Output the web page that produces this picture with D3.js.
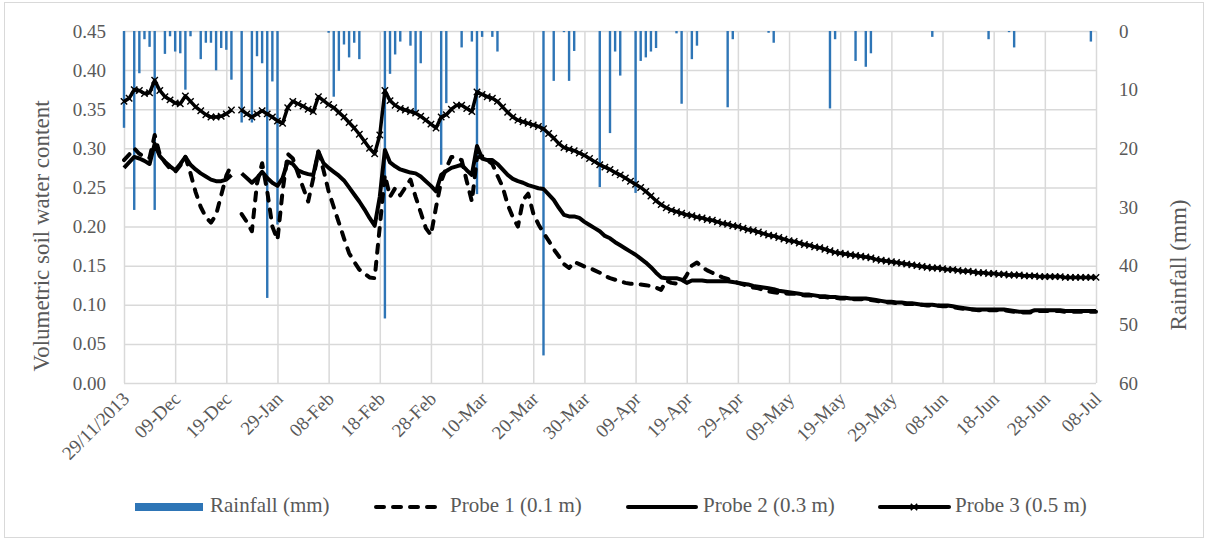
<!DOCTYPE html>
<html>
<head>
<meta charset="utf-8">
<script src="https://cdn.jsdelivr.net/npm/d3@7"></script>
<style>
  body { margin: 0; background: #fff; }
  text { font-family: "Liberation Serif", "Times New Roman", serif; fill: #595959; }
</style>
</head>
<body>
<svg width="1208" height="540"></svg>
<script>
// tick labels on the category axis (every 10th reading)
var tickIdx = [0, 10, 20, 30, 40, 50, 60, 70, 80, 90, 100, 110, 120, 130, 140, 150, 160, 170, 180, 190];
var tickLabels = ["29/11/2013", "09-Dec", "19-Dec", "29-Jan", "08-Feb", "18-Feb", "28-Feb", "10-Mar", "20-Mar", "30-Mar",
  "09-Apr", "19-Apr", "29-Apr", "09-May", "19-May", "29-May", "08-Jun", "18-Jun", "28-Jun", "08-Jul"];

// rainfall (mm), only the days with rain
var rainDay = [0, 2, 3, 4, 5, 6, 8, 9, 10, 11, 12, 13, 15, 16, 17, 18, 19, 20, 21, 23, 25, 26, 27, 28, 29, 30,
  40, 41, 42, 43, 44, 45, 46, 51, 52, 53, 54, 56, 57, 58, 62, 63, 66, 68, 69, 70, 72, 73,
  82, 84, 86, 87, 88, 93, 95, 96, 97, 100, 101, 102, 103, 104, 108, 109, 111, 112, 118, 119,
  126, 127, 138, 139, 143, 145, 146, 158, 169, 173, 174, 189];
var rainMm = [16.5, 30.5, 7.2, 1.4, 2.7, 30.5, 3.9, 0.9, 3.5, 3.8, 10, 0.9, 4.8, 2.0, 2.0, 6.7, 2.9, 3.2, 8.3, 15.6, 15.6, 4.3, 5.5, 45.5, 8.6, 33,
  0.3, 11.2, 6.8, 2.3, 4.5, 2.0, 4.8, 49, 7.3, 4.0, 1.8, 2.5, 14, 5.5, 22.8, 12.3, 2.8, 1.8, 27.8, 1.0, 1.0, 3.5,
  55.3, 8.5, 0.2, 8.5, 3.4, 26.6, 17.4, 3.5, 7.6, 27.6, 5.1, 4.5, 3.5, 2.9, 0.4, 12.4, 4.8, 2.5, 13.0, 1.4,
  0.3, 2.0, 13.2, 1.4, 5.1, 6.1, 3.8, 1.0, 1.4, 0.2, 2.8, 1.8];

// Probe 1 (0.1 m)
var probe1 = [0.285, 0.292, 0.300, 0.293, 0.289, 0.288, 0.317, 0.292, 0.282, 0.274,
  0.270, 0.278, 0.289, 0.268, 0.244, 0.225, 0.212, 0.205, 0.215, 0.240,
  0.265, 0.279, null, 0.216, 0.206, 0.194, 0.255, 0.281, 0.245, 0.200,
  0.183, 0.245, 0.293, 0.287, 0.268, 0.250, 0.232, 0.262, 0.296, 0.272,
  0.245, 0.225, 0.205, 0.185, 0.166, 0.155, 0.145, 0.140, 0.135, 0.134,
  0.200, 0.266, 0.238, 0.249, 0.240, 0.250, 0.260, 0.238, 0.218, 0.198,
  0.189, 0.225, 0.258, 0.275, 0.289, 0.288, 0.285, 0.258, 0.232, 0.288,
  0.290, 0.285, 0.280, 0.265, 0.251, 0.228, 0.212, 0.200, 0.234, 0.242,
  0.217, 0.203, 0.192, 0.182, 0.171, 0.162, 0.152, 0.147, 0.155, 0.152,
  0.149, 0.147, 0.144, 0.141, 0.137, 0.134, 0.132, 0.130, 0.128, 0.127,
  0.126, 0.126, 0.125, 0.124, 0.122, 0.119, 0.131, 0.128, 0.127, 0.128,
  0.138, 0.150, 0.154, 0.148, 0.144, 0.141, 0.138, 0.135, 0.133, 0.131,
  0.128, 0.126, 0.124, 0.122, 0.121, 0.119, 0.117, 0.116, 0.115, 0.115,
  0.114, 0.114, 0.113, 0.112, 0.112, 0.111, 0.110, 0.110, 0.109, 0.109,
  0.108, 0.108, 0.107, 0.107, 0.107, 0.107, 0.106, 0.105, 0.104, 0.103,
  0.103, 0.102, 0.102, 0.101, 0.101, 0.100, 0.100, 0.099, 0.099, 0.099,
  0.098, 0.098, 0.097, 0.096, 0.095, 0.094, 0.094, 0.093, 0.093, 0.093,
  0.093, 0.093, 0.093, 0.092, 0.091, 0.090, 0.090, 0.090, 0.092, 0.092,
  0.092, 0.092, 0.092, 0.092, 0.091, 0.091, 0.091, 0.091, 0.091, 0.091,
  0.091];

// Probe 2 (0.3 m)
var probe2 = [0.275, 0.282, 0.289, 0.287, 0.284, 0.280, 0.306, 0.290, 0.283, 0.277,
  0.272, 0.280, 0.289, 0.279, 0.273, 0.268, 0.264, 0.260, 0.258, 0.258,
  0.260, 0.266, null, 0.268, 0.262, 0.256, 0.262, 0.270, 0.262, 0.256,
  0.252, 0.262, 0.283, 0.280, 0.272, 0.269, 0.267, 0.266, 0.296, 0.281,
  0.275, 0.270, 0.265, 0.259, 0.250, 0.241, 0.232, 0.222, 0.211, 0.201,
  0.238, 0.298, 0.282, 0.277, 0.273, 0.271, 0.269, 0.268, 0.264, 0.258,
  0.252, 0.245, 0.266, 0.271, 0.275, 0.277, 0.279, 0.272, 0.266, 0.303,
  0.287, 0.285, 0.285, 0.280, 0.273, 0.266, 0.261, 0.258, 0.256, 0.253,
  0.251, 0.249, 0.248, 0.241, 0.234, 0.224, 0.215, 0.213, 0.213, 0.211,
  0.206, 0.202, 0.198, 0.194, 0.188, 0.185, 0.180, 0.176, 0.172, 0.168,
  0.164, 0.159, 0.154, 0.148, 0.141, 0.135, 0.134, 0.134, 0.134, 0.132,
  0.128, 0.131, 0.131, 0.131, 0.130, 0.130, 0.130, 0.130, 0.130, 0.129,
  0.128, 0.127, 0.126, 0.124, 0.123, 0.122, 0.121, 0.120, 0.118, 0.117,
  0.116, 0.115, 0.114, 0.113, 0.113, 0.112, 0.111, 0.111, 0.110, 0.110,
  0.109, 0.109, 0.108, 0.108, 0.108, 0.108, 0.107, 0.106, 0.105, 0.104,
  0.104, 0.103, 0.103, 0.102, 0.102, 0.101, 0.100, 0.100, 0.100, 0.099,
  0.099, 0.099, 0.098, 0.097, 0.096, 0.095, 0.094, 0.094, 0.094, 0.094,
  0.094, 0.094, 0.094, 0.093, 0.092, 0.091, 0.091, 0.091, 0.093, 0.093,
  0.093, 0.093, 0.093, 0.093, 0.092, 0.092, 0.092, 0.092, 0.092, 0.092,
  0.092];

// Probe 3 (0.5 m)
var probe3 = [0.360, 0.364, 0.375, 0.374, 0.370, 0.371, 0.387, 0.374, 0.366, 0.362,
  0.358, 0.357, 0.367, 0.360, 0.353, 0.348, 0.343, 0.340, 0.340, 0.341,
  0.344, 0.349, null, 0.349, 0.344, 0.340, 0.344, 0.348, 0.344, 0.340,
  0.335, 0.332, 0.352, 0.360, 0.357, 0.354, 0.350, 0.347, 0.366, 0.361,
  0.356, 0.352, 0.346, 0.340, 0.333, 0.326, 0.318, 0.309, 0.300, 0.293,
  0.317, 0.374, 0.361, 0.355, 0.351, 0.349, 0.347, 0.345, 0.341, 0.336,
  0.331, 0.326, 0.340, 0.343, 0.350, 0.355, 0.355, 0.351, 0.347, 0.372,
  0.369, 0.366, 0.364, 0.360, 0.353, 0.346, 0.340, 0.336, 0.334, 0.332,
  0.330, 0.328, 0.325, 0.319, 0.313, 0.306, 0.301, 0.299, 0.297, 0.294,
  0.291, 0.287, 0.283, 0.279, 0.276, 0.273, 0.269, 0.266, 0.262, 0.258,
  0.254, 0.250, 0.245, 0.239, 0.233, 0.228, 0.224, 0.221, 0.219, 0.217,
  0.215, 0.214, 0.212, 0.211, 0.209, 0.208, 0.206, 0.204, 0.203, 0.201,
  0.200, 0.198, 0.196, 0.195, 0.193, 0.191, 0.189, 0.188, 0.186, 0.184,
  0.182, 0.181, 0.179, 0.177, 0.176, 0.174, 0.173, 0.171, 0.169, 0.167,
  0.166, 0.165, 0.164, 0.163, 0.162, 0.161, 0.160, 0.158, 0.157, 0.156,
  0.155, 0.154, 0.153, 0.152, 0.151, 0.150, 0.149, 0.148, 0.147, 0.147,
  0.146, 0.145, 0.145, 0.144, 0.143, 0.143, 0.142, 0.141, 0.141, 0.140,
  0.140, 0.139, 0.139, 0.138, 0.138, 0.138, 0.137, 0.137, 0.137, 0.136,
  0.136, 0.136, 0.136, 0.136, 0.135, 0.135, 0.135, 0.135, 0.135, 0.135,
  0.135];

var svg = d3.select("svg"),
    width = +svg.attr("width"),
    height = +svg.attr("height");

// plot box (window.top is read-only, so no bare "top")
var plotLeft = 124, plotRight = 1096, plotTop = 31, plotBottom = 383;

var x = d3.scaleLinear().domain([0, 190]).range([plotLeft, plotRight]);
var y = d3.scaleLinear().domain([0, 0.45]).range([plotBottom, plotTop]);
var yRain = d3.scaleLinear().domain([0, 60]).range([plotTop, plotBottom]);

//outer frame
svg.append("rect")
    .attr("x", 4.5).attr("y", 2.5)
    .attr("width", width - 9).attr("height", height - 5)
    .attr("fill", "#fff")
    .attr("stroke", "#d9d9d9");

//horizontal grid + left labels
var yAxis = svg.append("g")
    .attr("transform", "translate(" + plotLeft + ",0)")
    .call(d3.axisLeft(y).tickValues(d3.range(0, 10).map(function (i) { return i * 0.05; }))
      .tickFormat(d3.format(".2f")).tickSize(-(plotRight - plotLeft)).tickPadding(18));
yAxis.select(".domain").remove();
yAxis.selectAll("line").attr("stroke", "#d9d9d9").attr("stroke-width", 1.5);
yAxis.selectAll("text").attr("font-size", 19).style("fill", "#595959");

//vertical grid + rotated date labels
var xAxis = svg.append("g")
    .attr("transform", "translate(0," + plotBottom + ")")
    .call(d3.axisBottom(x).tickValues(tickIdx)
      .tickFormat(function (d, i) { return tickLabels[i]; }).tickSize(-(plotBottom - plotTop)));
xAxis.select(".domain").remove();
xAxis.selectAll("line").attr("stroke", "#d9d9d9").attr("stroke-width", 1.5);
xAxis.selectAll("text")
    .attr("font-size", 19)
    .style("fill", "#595959")
    .attr("text-anchor", "end")
    .attr("dy", null)
    .attr("y", 0)
    .attr("transform", "translate(6,17) rotate(-45)");

//right axis labels
var rAxis = svg.append("g")
    .attr("transform", "translate(" + plotRight + ",0)")
    .call(d3.axisRight(yRain).tickValues(d3.range(0, 70, 10)).tickSize(0).tickPadding(23));
rAxis.select(".domain").remove();
rAxis.selectAll("text").attr("font-size", 19).style("fill", "#595959");

//axis titles
svg.append("text")
    .attr("transform", "translate(44,236) rotate(-90)")
    .attr("text-anchor", "middle")
    .attr("dominant-baseline", "middle")
    .attr("font-size", 23)
    .text("Volumetric soil water content");

svg.append("text")
    .attr("transform", "translate(1181,265) rotate(-90)")
    .attr("text-anchor", "middle")
    .attr("dominant-baseline", "middle")
    .attr("font-size", 23)
    .text("Rainfall (mm)");

//rainfall bars hanging from the top
svg.append("g")
    .selectAll("rect")
    .data(rainDay)
    .enter().append("rect")
      .attr("x", function (d) { return x(d) - 1.2; })
      .attr("y", plotTop)
      .attr("width", 2.4)
      .attr("height", function (d, i) { return yRain(rainMm[i]) - plotTop; })
      .attr("fill", "#2e75b6");

//soil water lines
var line = d3.line()
    .defined(function (d) { return d != null; })
    .x(function (d, i) { return x(i); })
    .y(function (d) { return y(d); });

svg.append("path").datum(probe1)
    .attr("d", line)
    .attr("fill", "none").attr("stroke", "#000").attr("stroke-width", 4)
    .attr("stroke-dasharray", "8,9").attr("stroke-linecap", "round").attr("stroke-linejoin", "round");

svg.append("path").datum(probe2)
    .attr("d", line)
    .attr("fill", "none").attr("stroke", "#000").attr("stroke-width", 4)
    .attr("stroke-linejoin", "round");

svg.append("path").datum(probe3)
    .attr("d", line)
    .attr("fill", "none").attr("stroke", "#000").attr("stroke-width", 3.5)
    .attr("stroke-linejoin", "round");

//x markers on probe 3
var m = 3.2;
svg.append("g")
    .selectAll("path")
    .data(probe3.map(function (v, i) { return { i: i, v: v }; }).filter(function (d) { return d.v != null; }))
    .enter().append("path")
      .attr("d", function (d) {
        var cx = x(d.i), cy = y(d.v);
        return "M" + (cx - m) + "," + (cy - m) + "L" + (cx + m) + "," + (cy + m) +
          "M" + (cx - m) + "," + (cy + m) + "L" + (cx + m) + "," + (cy - m);
      })
      .attr("stroke", "#000").attr("stroke-width", 1.4);

//legend
var legendY = 507;
var legend = svg.append("g");

legend.append("rect").attr("x", 135).attr("y", legendY - 4).attr("width", 68).attr("height", 8).attr("fill", "#2e75b6");
legend.append("text").attr("x", 210).attr("y", legendY).attr("dominant-baseline", "middle").attr("font-size", 21).text("Rainfall (mm)");

legend.append("line").attr("x1", 376).attr("x2", 441).attr("y1", legendY).attr("y2", legendY)
    .attr("stroke", "#000").attr("stroke-width", 4).attr("stroke-dasharray", "8,9").attr("stroke-linecap", "round");
legend.append("text").attr("x", 450).attr("y", legendY).attr("dominant-baseline", "middle").attr("font-size", 21).text("Probe 1 (0.1 m)");

legend.append("line").attr("x1", 628).attr("x2", 696).attr("y1", legendY).attr("y2", legendY)
    .attr("stroke", "#000").attr("stroke-width", 4).attr("stroke-linecap", "round");
legend.append("text").attr("x", 703).attr("y", legendY).attr("dominant-baseline", "middle").attr("font-size", 21).text("Probe 2 (0.3 m)");

legend.append("line").attr("x1", 880).attr("x2", 949).attr("y1", legendY).attr("y2", legendY)
    .attr("stroke", "#000").attr("stroke-width", 4).attr("stroke-linecap", "round");
legend.append("path")
    .attr("d", "M" + (914 - m) + "," + (legendY - m) + "L" + (914 + m) + "," + (legendY + m) +
      "M" + (914 - m) + "," + (legendY + m) + "L" + (914 + m) + "," + (legendY - m))
    .attr("stroke", "#000").attr("stroke-width", 1.6);
legend.append("text").attr("x", 955).attr("y", legendY).attr("dominant-baseline", "middle").attr("font-size", 21).text("Probe 3 (0.5 m)");
</script>
</body>
</html>
